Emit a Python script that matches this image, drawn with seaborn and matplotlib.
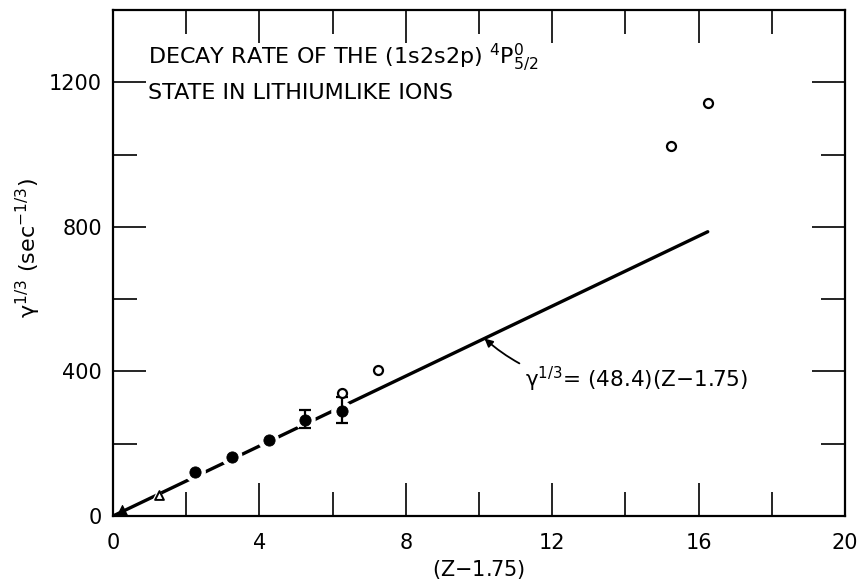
import matplotlib
matplotlib.use("Agg")
import matplotlib.pyplot as plt
import seaborn as sns
import numpy as np
import pandas as pd
from matplotlib.ticker import MultipleLocator

# ---- data ----
filled_x = [2.25, 3.25, 4.25, 5.25, 6.25]
filled_y = [121, 164, 210, 266, 290]
err_x = [5.25, 6.25]
err_y = [266, 290]
err_lo = [244, 256]
err_hi = [293, 330]
open_x = [6.25, 7.25, 15.25, 16.25]
open_y = [341, 403, 1024, 1142]
tri_filled_x = [0.25]
tri_filled_y = [11]
tri_open_x = [1.25]
tri_open_y = [58]
fit_x = [0.0, 16.25]
fit_y = [0.0, 786.5]
x_ticks = [0, 4, 8, 12, 16, 20]
y_ticks = [0, 400, 800, 1200]

sns.set_theme(style="ticks")
plt.rcParams['font.family'] = ['DejaVu Sans']
plt.rcParams['mathtext.fontset'] = 'dejavusans'
plt.rcParams['text.color'] = 'black'
plt.rcParams['axes.labelcolor'] = 'black'

fig = plt.figure(figsize=(8.57, 5.81), dpi=100)
ax = fig.add_axes([113/857, 1-516/581, (845-113)/857, (516-10)/581])

# fit line
sns.lineplot(x=fit_x, y=fit_y, ax=ax, color="black", lw=2.4, zorder=2)

# white halos around filled circles (gaps in the line)
sns.scatterplot(x=filled_x, y=filled_y, ax=ax, s=230, color="white",
                edgecolor="none", zorder=3)
sns.scatterplot(x=tri_open_x, y=tri_open_y, ax=ax, s=110, color="white",
                edgecolor="none", marker="^", zorder=3)

# error bars
yerr = np.array([np.array(err_y) - np.array(err_lo),
                 np.array(err_hi) - np.array(err_y)])
ax.errorbar(err_x, err_y, yerr=yerr, fmt="none", ecolor="black",
            elinewidth=1.6, capsize=4.5, capthick=1.6, zorder=5)

# filled circles
sns.scatterplot(x=filled_x, y=filled_y, ax=ax, s=65, color="black",
                edgecolor="black", zorder=6)
# open circles
sns.scatterplot(x=open_x, y=open_y, ax=ax, s=42, facecolor="white",
                edgecolor="black", linewidth=1.6, zorder=7)
# triangles
sns.scatterplot(x=tri_filled_x, y=tri_filled_y, ax=ax, s=100, color="black",
                marker="^", edgecolor="black", zorder=6)
sns.scatterplot(x=tri_open_x, y=tri_open_y, ax=ax, s=40, facecolor="white",
                marker="^", edgecolor="black", linewidth=1.4, zorder=6)

ax.set_xlim(0, 20)
ax.set_ylim(0, 1400)
ax.set_xticks(x_ticks)
ax.set_yticks(y_ticks)
ax.xaxis.set_minor_locator(MultipleLocator(2))
ax.yaxis.set_minor_locator(MultipleLocator(200))
ax.tick_params(which="both", direction="in", top=True, right=True,
               width=1.2, color="black", labelsize=15, labelcolor="black")
ax.tick_params(which="major", length=24)
ax.tick_params(which="minor", length=17)
ax.tick_params(axis="x", which="major", pad=12)
ax.tick_params(axis="y", which="major", pad=8)
for sp in ax.spines.values():
    sp.set_linewidth(1.6)
    sp.set_color("black")

ax.set_xlabel("(Z$-$1.75)", fontsize=15, labelpad=4)
ax.set_ylabel("γ$^{1/3}$ (sec$^{-1/3}$)", fontsize=16)
ax.yaxis.set_label_coords(-0.095, 0.53)

ax.text(0.96, 1269, r"DECAY RATE OF THE (1s2s2p) $^{4}$P$^{0}_{5/2}$",
        fontsize=16, va="center", ha="left")
ax.text(0.96, 1169, "STATE IN LITHIUMLIKE IONS", fontsize=16,
        va="center", ha="left")

ax.annotate("γ$^{1/3}$= (48.4)(Z$-$1.75)", xy=(10.15, 491), xytext=(11.26, 378),
            fontsize=15.5, va="center", ha="left",
            arrowprops=dict(arrowstyle="-|>", color="black", lw=1.3,
                            connectionstyle="arc3,rad=-0.25",
                            shrinkA=2, shrinkB=0, mutation_scale=12))

fig.savefig("out.png", dpi=100)
